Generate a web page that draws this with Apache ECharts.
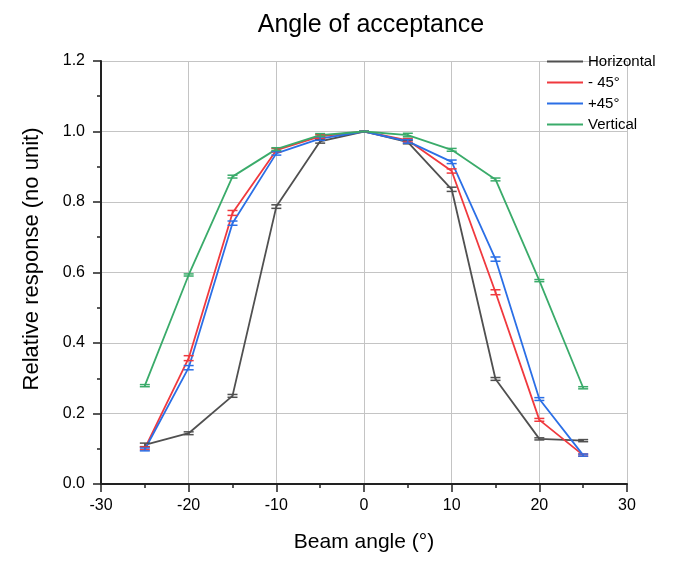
<!DOCTYPE html>
<html><head><meta charset="utf-8">
<script src="https://cdn.jsdelivr.net/npm/echarts@6/dist/echarts.min.js"></script>
<style>html,body{margin:0;padding:0;background:#fff}#c{width:673px;height:563px}</style>
</head><body><div id="c"></div>
<script>
const angles = [-25, -20, -15, -10, -5, 0, 5, 10, 15, 20, 25];
const horizontal = [0.111, 0.144, 0.250, 0.787, 0.972, 1.000, 0.970, 0.836, 0.298, 0.128, 0.123];
const minus45 = [0.101, 0.357, 0.769, 0.947, 0.986, 1.000, 0.975, 0.888, 0.544, 0.182, 0.082];
const plus45 = [0.098, 0.330, 0.740, 0.938, 0.980, 1.000, 0.972, 0.914, 0.638, 0.241, 0.082];
const vertical = [0.279, 0.593, 0.872, 0.950, 0.990, 1.000, 0.990, 0.948, 0.864, 0.577, 0.273];
const errH = [0.005, 0.004, 0.004, 0.005, 0.005, 0.000, 0.005, 0.006, 0.004, 0.003, 0.003];
const errM = [0.004, 0.007, 0.007, 0.005, 0.005, 0.000, 0.005, 0.006, 0.007, 0.004, 0.003];
const errP = [0.004, 0.006, 0.006, 0.005, 0.005, 0.000, 0.005, 0.005, 0.006, 0.004, 0.003];
const errV = [0.003, 0.003, 0.004, 0.004, 0.004, 0.000, 0.005, 0.004, 0.004, 0.003, 0.003];
const xTicks = { min: -30, max: 30, interval: 10 };
const yTicks = { min: 0, max: 1.2, interval: 0.2 };

const defs = [
  { name: 'Horizontal', data: horizontal, err: errH, color: '#505050' },
  { name: '- 45°', data: minus45, err: errM, color: '#f0393e' },
  { name: '+45°', data: plus45, err: errP, color: '#2b6fe6' },
  { name: 'Vertical', data: vertical, err: errV, color: '#3aab6a' }
];

const series = [];
defs.forEach(d => {
  series.push({
    name: d.name, type: 'line', symbol: 'none',
    data: angles.map((a, i) => [a, d.data[i]]),
    lineStyle: { color: d.color, width: 1.8 }, itemStyle: { color: d.color },
    z: 3
  });
  series.push({
    name: d.name, type: 'custom',
    data: angles.map((a, i) => [a, d.data[i] - d.err[i], d.data[i] + d.err[i]]),
    renderItem: (params, api) => {
      const x = api.value(0);
      const lo = api.coord([x, api.value(1)]);
      const hi = api.coord([x, api.value(2)]);
      const w = 5;
      const st = { stroke: d.color, lineWidth: 1.5 };
      return { type: 'group', children: [
        { type: 'line', shape: { x1: lo[0], y1: lo[1], x2: hi[0], y2: hi[1] }, style: st },
        { type: 'line', shape: { x1: lo[0] - w, y1: lo[1], x2: lo[0] + w, y2: lo[1] }, style: st },
        { type: 'line', shape: { x1: hi[0] - w, y1: hi[1], x2: hi[0] + w, y2: hi[1] }, style: st }
      ]};
    },
    z: 4
  });
});

const chart = echarts.init(document.getElementById('c'));
chart.setOption({
  animation: false,
  backgroundColor: '#fff',
  textStyle: { fontFamily: 'Liberation Sans, Arial, sans-serif' },
  title: { text: 'Angle of acceptance', left: 366, top: 8, textAlign: 'center',
    textStyle: { fontSize: 25, fontWeight: 'normal', color: '#000', fontFamily: 'Liberation Sans, Arial' } },
  legend: {
    data: defs.map(d => ({ name: d.name, icon: 'rect', itemStyle: { color: d.color } })),
    orient: 'vertical', left: 542, top: 49, itemWidth: 36, itemHeight: 2, itemGap: 6,
    textStyle: { fontSize: 15, color: '#000' }
  },
  graphic: [{
    type: 'text', x: 32, y: 259, rotation: Math.PI / 2,
    style: { text: 'Relative response (no unit)', fontSize: 22, fill: '#000',
      fontFamily: 'Liberation Sans, Arial', align: 'center', verticalAlign: 'middle' }
  }],
  grid: { left: 101, right: 46, top: 61, bottom: 79 },
  xAxis: {
    type: 'value', min: xTicks.min, max: xTicks.max, interval: xTicks.interval,
    name: 'Beam angle (°)', nameLocation: 'middle', nameGap: 48,
    nameTextStyle: { fontSize: 21, color: '#000' },
    axisLine: { onZero: false, lineStyle: { color: '#222', width: 2 } },
    axisTick: { length: 8, lineStyle: { color: '#222', width: 1.5 } },
    minorTick: { show: true, splitNumber: 2, length: 4, lineStyle: { color: '#222', width: 1.5 } },
    axisLabel: { fontSize: 16, color: '#000', margin: 14 },
    splitLine: { show: true, lineStyle: { color: '#c4c4c4', width: 1 } }
  },
  yAxis: {
    type: 'value', min: yTicks.min, max: yTicks.max, interval: yTicks.interval,
    axisLine: { show: true, onZero: false, lineStyle: { color: '#222', width: 2 } },
    axisTick: { show: true, length: 8, lineStyle: { color: '#222', width: 1.5 } },
    minorTick: { show: true, splitNumber: 2, length: 4, lineStyle: { color: '#222', width: 1.5 } },
    axisLabel: { fontSize: 16, color: '#000', margin: 16, formatter: v => v.toFixed(1) },
    splitLine: { show: true, lineStyle: { color: '#c4c4c4', width: 1 } }
  },
  series: series
});
</script></body></html>
